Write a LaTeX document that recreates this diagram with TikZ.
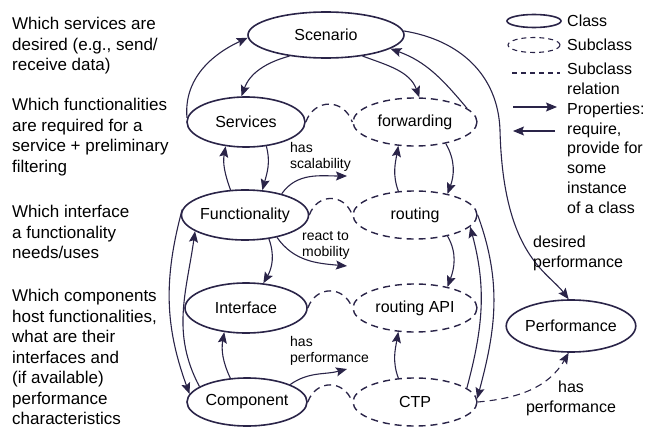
\documentclass[tikz,border=0pt]{standalone}
\usepackage{fontspec}
\setmainfont{Liberation Sans}
\usepackage{tikz}
\usetikzlibrary{shapes.geometric,arrows.meta,positioning,calc}
\definecolor{edgecol}{RGB}{42,36,72}

\tikzset{
	cls/.style={ellipse,draw=edgecol,line width=1.6pt,inner sep=0pt,
		font=\fontsize{16}{19}\selectfont},
	subcls/.style={cls,line width=1.4pt,dash pattern=on 7pt off 5pt},
	prop/.style={->,draw=edgecol,line width=1.1pt},
	subrel/.style={draw=edgecol,line width=1.3pt,dash pattern=on 7pt off 5pt},
	note/.style={anchor=west,align=left,inner sep=0pt,
		font=\fontsize{17}{20.5}\selectfont},
	lbl/.style={anchor=west,align=left,inner sep=0pt,
		font=\fontsize{14}{16}\selectfont},
	biglbl/.style={align=left,inner sep=0pt,
		font=\fontsize{16}{19.8}\selectfont},
}

\begin{document}
\begin{tikzpicture}[x=1pt,y=1pt,>={Stealth[length=11pt,width=9pt,inset=2pt]}]
	\useasboundingbox (0,0) rectangle (646,-428);
	%\draw[style=help lines,step=20] (0,0) grid (646,-428);

	% questions on the left
	\node[note] (q1) at (12,-46) {Which services are\\desired (e.g., send/\\receive data)};
	\node[note] (q2) at (12,-137) {Which functionalities\\are required for a\\service + preliminary\\filtering};
	\node[note] (q3) at (12,-232) {Which interface\\a functionality\\needs/uses};
	\node[note] (q4) at (12,-357) {Which components\\host functionalities,\\what are their\\interfaces and\\(if available)\\performance\\characteristics};

	% classes
	\node[cls,minimum width=156pt,minimum height=46pt] (scen) at (326,-35) {Scenario};
	\node[cls,minimum width=118pt,minimum height=50pt] (serv) at (246,-122) {Services};
	\node[cls,minimum width=122pt,minimum height=50pt] (func) at (245,-215) {Functionality};
	\node[cls,minimum width=122pt,minimum height=50pt] (intf) at (246,-308) {Interface};
	\node[cls,minimum width=120pt,minimum height=48pt] (comp) at (247,-402) {Component};
	\node[cls,minimum width=122pt,minimum height=52pt] (perf) at (571,-326) {Performance};

	% subclasses
	\node[subcls,minimum width=124pt,minimum height=48pt] (fwd) at (415,-122) {forwarding};
	\node[subcls,minimum width=124pt,minimum height=48pt] (rout) at (415,-215) {routing};
	\node[subcls,minimum width=124pt,minimum height=48pt] (rapi) at (415,-308) {routing API};
	\node[subcls,minimum width=124pt,minimum height=48pt] (ctp) at (415,-402) {CTP};

	% subclass relations
	\draw[subrel] (serv.east) to[out=70,in=110,looseness=1.4] (fwd.west);
	\draw[subrel] (func.east) to[out=70,in=110,looseness=1.4] (rout.west);
	\draw[subrel] (intf.east) to[out=70,in=110,looseness=1.4] (rapi.west);
	\draw[subrel] (comp.east) to[out=70,in=110,looseness=1.4] (ctp.west);

	% properties
	\draw[prop] (scen.210) to[out=195,in=70] (serv.100);
	\draw[prop] (serv.176) to[out=95,in=205] (scen.182);
	\draw[prop] (scen.-30) to[out=-20,in=110] (fwd.80);
	\draw[prop] (fwd.15) to[out=130,in=-20] (scen.-12);
	\draw[prop] (scen.3) .. controls (460,-40) and (498,-75) .. (500,-130)
		.. controls (503,-255) and (548,-272) .. (perf.95);
	\node[biglbl,anchor=west] (ldes) at (533,-253) {desired\\performance};

	\draw[prop] (func.120) to[out=110,in=-100] (serv.-130);
	\draw[prop] (serv.-50) to[out=-75,in=75] (func.55);
	\draw[prop] (func.-45) to[out=-70,in=60] (intf.55);
	\draw[prop] (comp.125) to[out=115,in=-100] (intf.-132);
	\draw[prop] (func.175) to[out=-105,in=110] (comp.172);
	\draw[prop] (comp.162) to[out=118,in=-98] (func.-162);

	\coordinate (scalend) at (347,-176);
	\coordinate (mobend) at (347,-266);
	\coordinate (cperfend) at (347,-369);
	\draw[prop] (func.30) to[out=55,in=180] (scalend);
	\draw[prop] (func.-35) to[out=-55,in=175] (mobend);
	\draw[prop] (comp.22) to[out=35,in=195] (cperfend);
	\node[lbl] (lscal) at (290,-157) {has\\scalability};
	\node[lbl] (lmob) at (302,-245) {react to\\mobility};
	\node[lbl] (lcperf) at (290,-351) {has\\performance};

	\draw[prop] (rout.125) to[out=110,in=-100] (fwd.-125);
	\draw[prop] (fwd.-35) to[out=-60,in=70] (rout.33);
	\draw[prop] (rout.-33) to[out=-60,in=70] (rapi.33);
	\draw[prop] (ctp.125) to[out=110,in=-100] (rapi.-125);
	\draw[prop] (ctp.15) to[out=75,in=-75] (rout.-12);
	\draw[prop] (rout.0) to[out=-70,in=75] (ctp.3);

	\draw[prop,dash pattern=on 7pt off 5pt] (ctp.0) to[out=5,in=-120] (perf.-95);
	\node[biglbl,align=center] (lhperf) at (571,-398) {has\\performance};

	% legend
	\node[cls,minimum width=54pt,minimum height=13pt] (lgcls) at (534,-21) {};
	\node[subcls,line width=1.1pt,dash pattern=on 5pt off 4pt,minimum width=52pt,minimum height=15pt] (lgsub) at (534,-45) {};
	\coordinate (lgrelA) at (512,-73);
	\coordinate (lgrelB) at (560,-73);
	\draw[subrel,line width=1.1pt,dash pattern=on 5pt off 4pt] (lgrelA) -- (lgrelB);
	\coordinate (lgprA) at (513,-107);
	\coordinate (lgprB) at (557,-107);
	\coordinate (lgpvA) at (555,-131);
	\coordinate (lgpvB) at (513,-131);
	\draw[prop] (lgprA) -- (lgprB);
	\draw[prop] (lgpvA) -- (lgpvB);
	\node[biglbl,anchor=west] (tcls) at (567,-21) {Class};
	\node[biglbl,anchor=west] (tsub) at (567,-45) {Subclass};
	\node[biglbl,anchor=west] (trel) at (567,-79) {Subclass\\relation};
	\node[biglbl,anchor=west] (tprop) at (567,-158) {Properties:\\require,\\provide for\\some\\instance\\of a class};
\end{tikzpicture}
\end{document}
